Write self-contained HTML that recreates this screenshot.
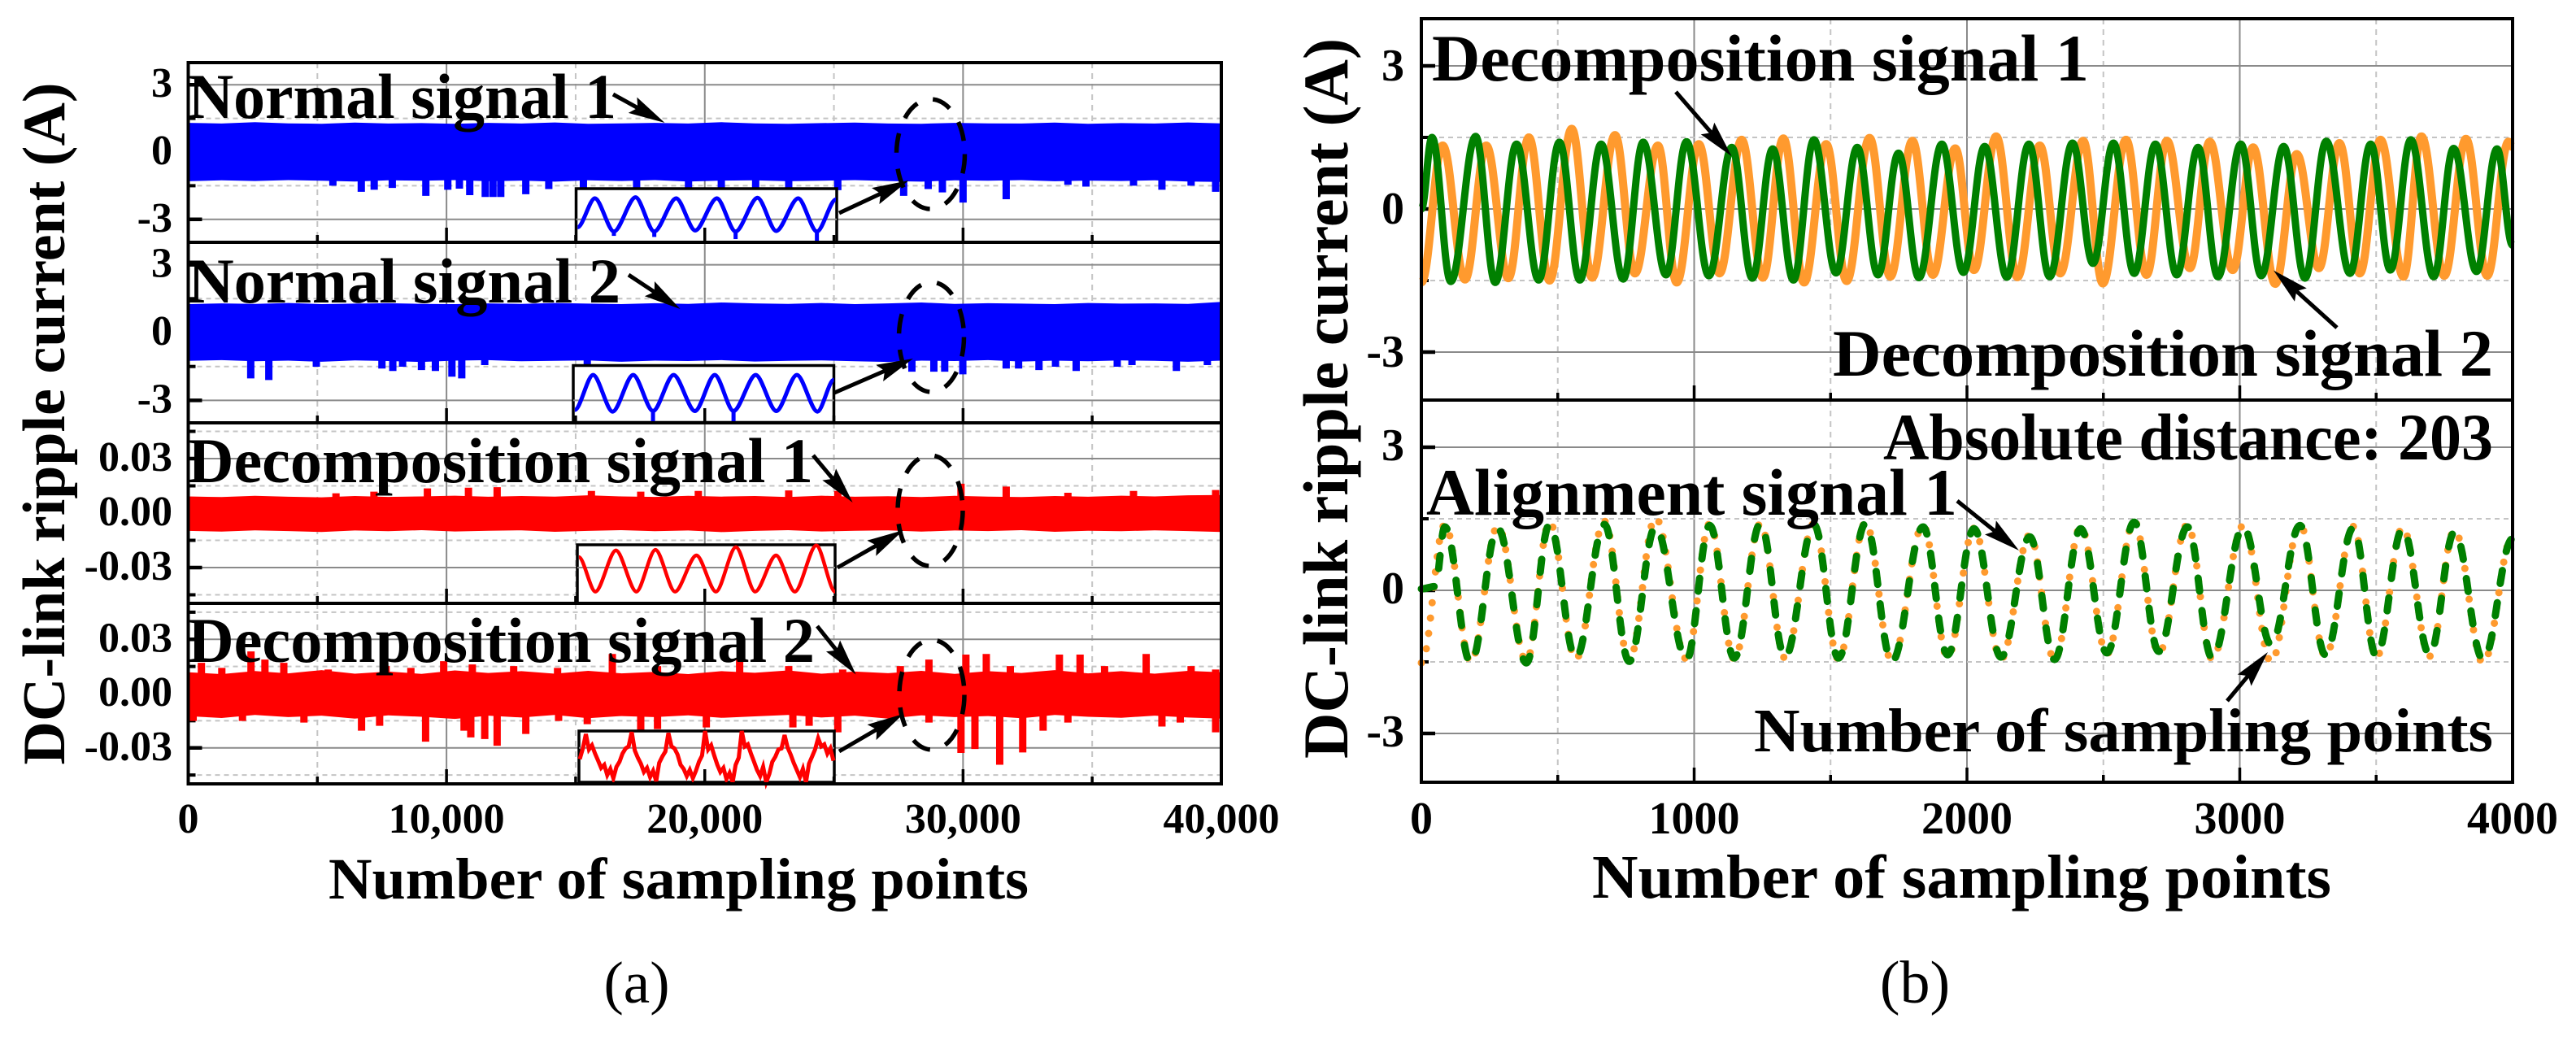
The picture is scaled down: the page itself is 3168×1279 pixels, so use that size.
<!DOCTYPE html>
<html lang="en">
<head>
<meta charset="utf-8">
<title>DC-link ripple current signals</title>
<style>
html,body{margin:0;padding:0;background:#fff;width:3168px;height:1279px;overflow:hidden}
svg{display:block}
text{font-family:"Liberation Serif","Times New Roman",serif;fill:#000}
.b{font-weight:bold}
</style>
</head>
<body>
<svg id="fig" xmlns="http://www.w3.org/2000/svg" width="3168" height="1279" viewBox="0 0 3168 1279">
  <rect x="0" y="0" width="3168" height="1279" fill="#fff"/>
  <g id="layer-a"></g>
  <g id="layer-b"></g>

  <g>
    <text class="b" x="231" y="145" font-size="78" textLength="527" lengthAdjust="spacingAndGlyphs">Normal signal 1</text>
    <text class="b" x="231" y="372" font-size="78" textLength="532" lengthAdjust="spacingAndGlyphs">Normal signal 2</text>
    <text class="b" x="231" y="593" font-size="78" textLength="769" lengthAdjust="spacingAndGlyphs">Decomposition signal 1</text>
    <text class="b" x="231" y="814" font-size="78" textLength="771" lengthAdjust="spacingAndGlyphs">Decomposition signal 2</text>
    <text class="b" transform="translate(79 521) rotate(-90)" text-anchor="middle" font-size="74" textLength="839" lengthAdjust="spacingAndGlyphs">DC-link ripple current (A)</text>
    <text class="b" x="404" y="1105" font-size="72" textLength="861" lengthAdjust="spacingAndGlyphs">Number of sampling points</text>
    <text x="783" y="1233" font-size="73" text-anchor="middle">(a)</text>
  </g>

  <g>
    <text class="b" x="1761" y="99" font-size="82" textLength="808" lengthAdjust="spacingAndGlyphs">Decomposition signal 1</text>
    <text class="b" x="2254" y="462" font-size="82" textLength="812" lengthAdjust="spacingAndGlyphs">Decomposition signal 2</text>
    <text class="b" x="2316" y="565" font-size="82" textLength="750" lengthAdjust="spacingAndGlyphs">Absolute distance: 203</text>
    <text class="b" x="1754" y="633" font-size="82" textLength="653" lengthAdjust="spacingAndGlyphs">Alignment signal 1</text>
    <text class="b" x="2157" y="924" font-size="76" textLength="909" lengthAdjust="spacingAndGlyphs">Number of sampling points</text>
    <text class="b" transform="translate(1657 490) rotate(-90)" text-anchor="middle" font-size="78" textLength="886" lengthAdjust="spacingAndGlyphs">DC-link ripple current (A)</text>
    <text class="b" x="1958" y="1104" font-size="76" textLength="909" lengthAdjust="spacingAndGlyphs">Number of sampling points</text>
    <text x="2355" y="1233" font-size="74" text-anchor="middle">(b)</text>
  </g>
  <g id="layer-arrows"></g>
</svg>
<script>
/* ---------- chart data: panel (a) ---------- */
const xTicksA = [0,10000,20000,30000,40000];
const xTickLabelsA = ["0","10,000","20,000","30,000","40,000"];
const xMinorA = [5000,15000,25000,35000];
const yTicksCurrent = [3,0,-3];
const yTickLabelsCurrent = ["3","0","-3"];
const yMinorCurrent = [1.5,-1.5];
const yTicksDecomp = [0.03,0,-0.03];
const yTickLabelsDecomp = ["0.03","0.00","-0.03"];
const yMinorDecomp = [0.045,0.015,-0.015,-0.045];

const upper1 = [1.30,1.27,1.33,1.28,1.26,1.31,1.27,1.29,1.26,1.30,1.27,1.32,1.26,1.28,1.30,1.27,1.33,1.28,1.26,1.29,1.31,1.27,1.26,1.30,1.28,1.27,1.31,1.26,1.29,1.27,1.32,1.28];
const lower1 = [-1.30,-1.26,-1.29,-1.25,-1.28,-1.31,-1.26,-1.28,-1.25,-1.30,-1.27,-1.32,-1.26,-1.29,-1.25,-1.31,-1.27,-1.26,-1.30,-1.28,-1.25,-1.29,-1.32,-1.26,-1.28,-1.25,-1.30,-1.27,-1.29,-1.26,-1.31,-1.33];
const spikeSamples1 = [5600,6700,7200,7900,9200,10050,10500,10900,11500,11800,12100,13070,13960,15300,17360,19370,20640,21970,23250,25150,27700,28650,29200,30000,31670,34060,34760,36600,37700,38830,39780];
const spikeValues1 = [-1.5,-1.77,-1.68,-1.6,-1.95,-1.68,-1.63,-1.92,-2.0,-2.0,-2.0,-1.88,-1.65,-1.88,-1.73,-1.7,-1.7,-1.7,-1.7,-1.7,-1.95,-1.65,-1.8,-2.25,-2.1,-1.46,-1.54,-1.5,-1.68,-1.5,-1.77];

const upper2 = [1.26,1.29,1.27,1.31,1.26,1.28,1.30,1.27,1.26,1.29,1.27,1.31,1.28,1.26,1.30,1.27,1.33,1.29,1.27,1.31,1.26,1.29,1.33,1.27,1.30,1.28,1.26,1.31,1.28,1.29,1.27,1.36];
const lower2 = [-1.25,-1.22,-1.27,-1.24,-1.29,-1.23,-1.26,-1.30,-1.24,-1.22,-1.27,-1.25,-1.23,-1.29,-1.24,-1.26,-1.22,-1.28,-1.25,-1.23,-1.27,-1.30,-1.24,-1.26,-1.22,-1.28,-1.24,-1.27,-1.23,-1.25,-1.29,-1.24];
const spikeSamples2 = [2420,3120,4960,7500,7920,8300,9030,9570,10210,10590,11480,15450,28020,28870,29290,29990,31670,32150,32940,33580,34380,35970,36540,38260,39460];
const spikeValues2 = [-2.03,-2.10,-1.51,-1.59,-1.70,-1.51,-1.66,-1.70,-1.95,-2.03,-1.44,-1.44,-1.73,-1.73,-1.73,-1.85,-1.59,-1.59,-1.66,-1.51,-1.70,-1.51,-1.44,-1.70,-1.44];

const upper3 = [0.0092,0.0088,0.0095,0.0090,0.0087,0.0094,0.0089,0.0092,0.0096,0.0090,0.0094,0.0091,0.0098,0.0092,0.0089,0.0095,0.0091,0.0094,0.0088,0.0096,0.0090,0.0093,0.0088,0.0095,0.0091,0.0088,0.0094,0.0090,0.0096,0.0092,0.0098,0.0100];
const lower3 = [-0.0098,-0.0102,-0.0095,-0.0099,-0.0104,-0.0096,-0.0100,-0.0094,-0.0101,-0.0097,-0.0095,-0.0103,-0.0098,-0.0094,-0.0100,-0.0096,-0.0105,-0.0098,-0.0094,-0.0101,-0.0097,-0.0095,-0.0102,-0.0096,-0.0099,-0.0094,-0.0103,-0.0097,-0.0100,-0.0095,-0.0099,-0.0104];
const spikeSamples3 = [5720,7190,9260,10850,11960,15610,17520,19750,23250,25150,29920,31670,34060,36600,39780];
const spikeValues3 = [0.0109,0.0118,0.0136,0.014,0.0143,0.0122,0.0118,0.0122,0.0125,0.0122,0.0162,0.0146,0.0112,0.0122,0.0127];

const upper4 = [0.0118,0.0108,0.0125,0.0112,0.0130,0.0110,0.0122,0.0109,0.0128,0.0114,0.0124,0.0110,0.0126,0.0112,0.0120,0.0108,0.0124,0.0115,0.0128,0.0110,0.0122,0.0113,0.0126,0.0109,0.0124,0.0114,0.0130,0.0112,0.0124,0.0110,0.0126,0.0118];
const lower4 = [-0.0125,-0.0135,-0.0118,-0.0130,-0.0122,-0.0138,-0.0120,-0.0128,-0.0140,-0.0122,-0.0132,-0.0118,-0.0136,-0.0124,-0.0130,-0.0120,-0.0134,-0.0126,-0.0118,-0.0132,-0.0122,-0.0138,-0.0120,-0.0130,-0.0124,-0.0136,-0.0118,-0.0128,-0.0134,-0.0122,-0.0132,-0.0138];
const upSpikeSamples4 = [510,1300,2430,2970,3700,5420,7660,8620,9890,11000,12600,14300,16420,18170,21350,23250,25340,27570,28680,30110,30900,31830,33730,34530,35480,37090,38830,39780];
const upSpikeValues4 = [0.017,0.0142,0.0233,0.0188,0.017,0.0133,0.0152,0.0142,0.0179,0.0161,0.0152,0.0142,0.0219,0.0152,0.0188,0.0152,0.0133,0.0152,0.0188,0.0216,0.0219,0.0152,0.0216,0.0216,0.0152,0.0219,0.0152,0.0133];
const downSpikeSamples4 = [190,2100,4480,6710,7410,9190,10680,10940,11480,11960,13070,14340,15450,17520,18170,20060,23410,24040,25150,28680,29920,30460,31420,32310,33100,34060,37700,38410,39780];
const downSpikeValues4 = [-0.0151,-0.0151,-0.016,-0.0205,-0.0178,-0.0266,-0.0205,-0.0242,-0.0251,-0.0288,-0.0223,-0.0151,-0.0169,-0.0214,-0.0196,-0.0187,-0.0187,-0.0178,-0.0214,-0.016,-0.0328,-0.0306,-0.0393,-0.0325,-0.0205,-0.016,-0.0182,-0.016,-0.0214];

/* inset waveforms: x and y are percent of the inset box */
const inset1X = [0.6,7.2,14.5,22.8,30,38.4,45.7,54,61.2,69.6,76.8,85.2,92.4,99.7];
const inset1Y = [72,18,80,16,80,18,78,18,80,17,79,18,80,20];
const inset1SpikeX = [14.5,30,61.2,92.4];
const inset1SpikeY = [88,90,94,100];
const inset2X = [0.6,7.6,15.1,23,30.6,38.5,46.7,54.3,61.5,70,77.9,85.8,93.7,100];
const inset2Y = [78,16.5,81,16.5,80,16.5,80,16.5,80,16.5,80,16.5,81,25];
const inset2SpikeX = [30.6,61.5];
const inset2SpikeY = [100,100];
const inset3X = [0.6,7,15,22.9,30.3,37.9,46.2,53.8,61.5,69,77.1,84.4,92.7,100];
const inset3Y = [21,80,9.6,80,8.5,80,18,80,4,80,18,80,1,80];
const inset4Y = [55,34,6,36,28,44,58,72,66,86,74,92,70,60,44,34,30,2,38,52,64,80,72,90,78,98,62,50,40,4,30,34,46,66,74,88,76,92,78,60,48,0,36,28,48,66,80,72,94,82,100,66,52,0,30,26,44,60,76,88,70,100,84,60,50,36,34,8,32,46,62,76,90,74,100,64,50,36,14,30,26,44,34,58];

/* ---------- chart data: panel (b) ---------- */
const xTicksB = [0,1000,2000,3000,4000];
const xTickLabelsB = ["0","1000","2000","3000","4000"];
const xMinorB = [500,1500,2500,3500];
const green1Samples = [0,39,108,199,271,349,430,506,581,659,740,813,897,972,1054,1138,1213,1288,1364,1439,1520,1598,1674,1749,1824,1908,1987,2065,2146,2227,2303,2387,2462,2537,2613,2691,2769,2847,2920,3004,3079,3161,3239,3317,3404,3480,3552,3627,3711,3784,3868,3943,4000];
const green1Values = [0,1.50,-1.52,1.52,-1.54,1.36,-1.49,1.40,-1.49,1.36,-1.47,1.40,-1.38,1.41,-1.40,1.29,-1.45,1.26,-1.49,1.45,-1.34,1.29,-1.38,1.17,-1.44,1.36,-1.33,1.31,-1.43,1.36,-1.42,1.38,-1.14,1.38,-1.35,1.36,-1.38,1.29,-1.42,1.36,-1.40,1.31,-1.45,1.42,-1.35,1.36,-1.28,1.45,-1.42,1.27,-1.31,1.26,-0.76];
const orange1Samples = [0,78,160,238,319,394,470,551,626,710,783,867,936,1017,1093,1174,1252,1327,1403,1484,1559,1643,1719,1800,1875,1957,2026,2107,2185,2267,2342,2426,2498,2583,2658,2733,2817,2890,2974,3049,3130,3209,3290,3365,3440,3516,3600,3666,3750,3829,3907,3985,4000];
const orange1Values = [-1.54,1.33,-1.48,1.33,-1.45,1.50,-1.50,1.68,-1.44,1.55,-1.35,1.33,-1.54,1.36,-1.35,1.45,-1.44,1.48,-1.54,1.36,-1.51,1.49,-1.42,1.43,-1.38,1.27,-1.28,1.52,-1.43,1.33,-1.35,1.43,-1.56,1.45,-1.38,1.43,-1.24,1.41,-1.28,1.29,-1.57,1.15,-1.24,1.38,-1.35,1.45,-1.42,1.52,-1.40,1.47,-1.40,1.41,1.30];
const alignGreenSamples = [0,50,86,181,280,385,470,566,671,762,858,972,1057,1147,1243,1333,1439,1529,1628,1725,1839,1929,2026,2125,2230,2321,2417,2513,2613,2703,2808,2899,3013,3115,3221,3314,3416,3501,3597,3696,3787,3892,4000];
const alignGreenValues = [0.03,0.08,1.33,-1.52,1.30,-1.52,1.38,-1.42,1.38,-1.49,1.33,-1.45,1.36,-1.42,1.40,-1.40,1.38,-1.42,1.40,-1.49,1.33,-1.35,1.29,-1.40,1.12,-1.45,1.29,-1.31,1.43,-1.28,1.33,-1.42,1.33,-1.14,1.36,-1.35,1.31,-1.38,1.29,-1.35,1.22,-1.45,1.08];
const alignOrangeSamples = [0,86,181,280,385,470,566,671,762,858,972,1057,1147,1243,1333,1439,1529,1628,1725,1839,1929,2026,2125,2230,2321,2417,2513,2613,2703,2808,2899,3013,3115,3221,3314,3416,3501,3597,3696,3787,3892,4000];
const alignOrangeValues = [-1.52,1.38,-1.50,1.34,-1.48,1.43,-1.44,1.45,-1.46,1.52,-1.44,1.40,-1.44,1.40,-1.42,1.40,-1.44,1.42,-1.49,1.36,-1.40,1.30,-1.44,1.16,-1.46,1.33,-1.33,1.45,-1.32,1.38,-1.44,1.36,-1.50,1.38,-1.38,1.34,-1.40,1.32,-1.38,1.26,-1.52,1.12];

/* ---------- drawing ---------- */
const NS = 'http://www.w3.org/2000/svg';
const layerA = document.getElementById('layer-a');
const layerB = document.getElementById('layer-b');
const layerArrows = document.getElementById('layer-arrows');
const BLUE = '#0000ff', RED = '#ff0000', GREEN = '#008000', ORANGE = '#ff9a2e';
const GRID = '#8a8a8a', GRID_MINOR = '#c4c4c4';

function mk(parent, tag, attrs) {
  const el = document.createElementNS(NS, tag);
  for (const k in attrs) el.setAttribute(k, attrs[k]);
  parent.appendChild(el);
  return el;
}
function lineMark(parent, x1, y1, x2, y2, stroke, width, dash) {
  const attrs = {x1, y1, x2, y2, stroke, 'stroke-width': width};
  if (dash) attrs['stroke-dasharray'] = dash;
  return mk(parent, 'line', attrs);
}
function labelMark(parent, x, y, size, anchor, str) {
  const t = mk(parent, 'text', {x, y, 'font-size': size, 'text-anchor': anchor, 'font-weight': 'bold'});
  t.textContent = str;
  return t;
}
function smoothPath(px, py, k) {
  const c = k === undefined ? 0.38 : k;
  let d = 'M' + px[0].toFixed(1) + ' ' + py[0].toFixed(1);
  for (let i = 1; i < px.length; i++) {
    const dx = (px[i] - px[i-1]) * c;
    d += 'C' + (px[i-1]+dx).toFixed(1) + ' ' + py[i-1].toFixed(1) + ' ' + (px[i]-dx).toFixed(1) + ' ' + py[i].toFixed(1) + ' ' + px[i].toFixed(1) + ' ' + py[i].toFixed(1);
  }
  return d;
}

function drawGrid(g, xScale, left, right, top, bottom, yScale, yMajor, yMinor, xMajor, xMinor) {
  xMinor.forEach(v => {
    const l = lineMark(g, xScale(v), top, xScale(v), bottom, GRID_MINOR, 2, '7 6');
    
    
  });
  xMajor.forEach(v => {
    const l = lineMark(g, xScale(v), top, xScale(v), bottom, GRID, 2);
    
    
  });
  yMinor.forEach(v => {
    const l = lineMark(g, left, yScale(v), right, yScale(v), GRID_MINOR, 2, '6 5');
    
    
  });
  yMajor.forEach(v => {
    const l = lineMark(g, left, yScale(v), right, yScale(v), GRID, 2);
    
    
  });
}
function drawYTicks(g, left, yScale, yMajor, yMinor, labels, labelX, labelDy, size) {
  yMajor.forEach((v, i) => {
    const l = lineMark(g, left, yScale(v), left + 17, yScale(v), '#000', 4.5);
    
    
    const t = labelMark(g, labelX, yScale(v) + labelDy, size, 'end', labels[i]);
    
    
  });
  yMinor.forEach(v => {
    const l = lineMark(g, left, yScale(v), left + 9, yScale(v), '#000', 4);
    
    
  });
}
function drawXTicks(g, xScale, bottom, xMajor, xMinor) {
  xMajor.forEach(v => {
    const l = lineMark(g, xScale(v), bottom, xScale(v), bottom - 18, '#000', 3.5);
    
    
  });
  xMinor.forEach(v => {
    const l = lineMark(g, xScale(v), bottom, xScale(v), bottom - 9, '#000', 3.5);
    
    
  });
}
function drawFrame(g, left, right, top, bottom) {
  const r = mk(g, 'rect', {x: left, y: top, width: right-left, height: bottom-top, fill: 'none', stroke: '#000', 'stroke-width': 4});
  
  
}
function drawBand(g, xScale, yScale, upper, lower, color) {
  const n = upper.length;
  let d = '';
  upper.forEach((v, i) => {
    d += (i ? 'L' : 'M') + xScale(i * 40000 / (n-1)).toFixed(1) + ' ' + yScale(v).toFixed(1);
  });
  for (let i = n - 1; i >= 0; i--) {
    d += 'L' + xScale(i * 40000 / (n-1)).toFixed(1) + ' ' + yScale(lower[i]).toFixed(1);
  }
  const p = mk(g, 'path', {d: d + 'Z', fill: color});
  
  
}
function drawSpikes(g, xScale, yScale, samples, values, color) {
  samples.forEach((s, i) => {
    const l = lineMark(g, xScale(s), yScale(0), xScale(s), yScale(values[i]), color, 9);
    
    
  });
}
function drawInsetBox(g, box, gridY) {
  const r = mk(g, 'rect', {x: box.x, y: box.y, width: box.w, height: box.h, fill: '#fff', stroke: '#000', 'stroke-width': 3.5});
  
  
  const l = lineMark(g, box.x, gridY, box.x + box.w, gridY, GRID, 2);
  
  
}
function drawInsetWave(g, box, color, width, xs, ys, spikeX, spikeY) {
  const px = xs.map(v => box.x + v * box.w / 100);
  const py = ys.map(v => box.y + v * box.h / 100);
  const p = mk(g, 'path', {d: smoothPath(px, py, 0.3), fill: 'none', stroke: color, 'stroke-width': width, 'stroke-linejoin': 'round'});
  
  
  spikeX.forEach((v, i) => {
    const l = lineMark(g, box.x + v * box.w / 100, box.y + 76 * box.h / 100, box.x + v * box.w / 100, box.y + spikeY[i] * box.h / 100, color, 5);
    
    
  });
}
function drawEllipse(cx, cy, rx, ry) {
  const e = mk(layerArrows, 'ellipse', {cx, cy, rx, ry, fill: 'none', stroke: '#000', 'stroke-width': 5.5, 'stroke-dasharray': '24 20'});
  
  
}
function drawArrow(x1, y1, x2, y2) {
  const L = Math.hypot(x2 - x1, y2 - y1);
  const ux = (x2 - x1) / L, uy = (y2 - y1) / L;
  const nx = -uy, ny = ux;
  const H = 45, W = 11, N = 7;
  const l = lineMark(layerArrows, x1, y1, x2 - ux * (H - N), y2 - uy * (H - N), '#000', 5);
  
  
  const pts = [
    [x2, y2],
    [x2 - ux*H + nx*W, y2 - uy*H + ny*W],
    [x2 - ux*(H-N), y2 - uy*(H-N)],
    [x2 - ux*H - nx*W, y2 - uy*H - ny*W]
  ].map(p => p[0].toFixed(1) + ',' + p[1].toFixed(1)).join(' ');
  const head = mk(layerArrows, 'polygon', {points: pts, fill: '#000'});
  
  
}

/* panel (a) */
const xA = v => 231.5 + v * 1270.5 / 40000;
const yA1 = v => 187 - v * 27.6;
const yA2 = v => 409 - v * 27.8;
const yA3 = v => 631 - v * 2233;
const yA4 = v => 853 - v * 2225;
const leftA = 231.5, rightA = 1502;

function subPanelA(top, bottom, yScale, major, minor, tickLabels, drawMarks) {
  const g = mk(layerA, 'g', {});
  
  
  drawGrid(g, xA, leftA, rightA, top, bottom, yScale, major, minor, xTicksA.slice(1, 4), xMinorA);
  drawYTicks(g, leftA, yScale, major, minor, tickLabels, 212, 15, 52);
  drawMarks(g);
  drawXTicks(g, xA, bottom, xTicksA.slice(1, 4), xMinorA);
  drawFrame(g, leftA, rightA, top, bottom);
}
subPanelA(77, 298, yA1, yTicksCurrent, yMinorCurrent, yTickLabelsCurrent, g => {
  drawSpikes(g, xA, yA1, spikeSamples1, spikeValues1, BLUE);
  drawBand(g, xA, yA1, upper1, lower1, BLUE);
  const box = {x: 708.5, y: 232, w: 320.5, h: 66};
  drawInsetBox(g, box, yA1(-3));
  drawInsetWave(g, box, BLUE, 5, inset1X, inset1Y, inset1SpikeX, inset1SpikeY);
});
subPanelA(298, 520, yA2, yTicksCurrent, yMinorCurrent, yTickLabelsCurrent, g => {
  drawSpikes(g, xA, yA2, spikeSamples2, spikeValues2, BLUE);
  drawBand(g, xA, yA2, upper2, lower2, BLUE);
  const box = {x: 705, y: 449.5, w: 320.5, h: 70};
  drawInsetBox(g, box, yA2(-3));
  drawInsetWave(g, box, BLUE, 5, inset2X, inset2Y, inset2SpikeX, inset2SpikeY);
});
subPanelA(520, 742, yA3, yTicksDecomp, yMinorDecomp, yTickLabelsDecomp, g => {
  drawSpikes(g, xA, yA3, spikeSamples3, spikeValues3, RED);
  drawBand(g, xA, yA3, upper3, lower3, RED);
  const box = {x: 710, y: 670, w: 317, h: 72};
  drawInsetBox(g, box, yA3(-0.03));
  drawInsetWave(g, box, RED, 4.5, inset3X, inset3Y, [], []);
});
subPanelA(742, 964, yA4, yTicksDecomp, yMinorDecomp, yTickLabelsDecomp, g => {
  drawSpikes(g, xA, yA4, upSpikeSamples4, upSpikeValues4, RED);
  drawSpikes(g, xA, yA4, downSpikeSamples4, downSpikeValues4, RED);
  drawBand(g, xA, yA4, upper4, lower4, RED);
  const box = {x: 712, y: 899, w: 314, h: 63};
  drawInsetBox(g, box, yA4(-0.03));
  const n = inset4Y.length;
  const pts = inset4Y.map((v, i) => (box.x + 1 + i * (box.w - 2) / (n - 1)).toFixed(1) + ',' + (box.y + v * box.h / 100).toFixed(1)).join(' ');
  const noisy = mk(g, 'polyline', {points: pts, fill: 'none', stroke: RED, 'stroke-width': 5});
  
  
});
xTicksA.forEach((v, i) => {
  const t = labelMark(layerA, xA(v), 1024, 52, 'middle', xTickLabelsA[i]);
  
  
});

/* panel (b) */
const xB = v => 1748 + v * 0.3355;
const yB1 = v => 257 - v * 58.67;
const yB2 = v => 726 - v * 58.67;
const leftB = 1748, rightB = 3090;

function subPanelB(top, bottom, yScale, labelDy, drawMarks) {
  const g = mk(layerB, 'g', {});
  
  
  drawGrid(g, xB, leftB, rightB, top, bottom, yScale, yTicksCurrent, yMinorCurrent, xTicksB.slice(1, 4), xMinorB);
  drawYTicks(g, leftB, yScale, yTicksCurrent, yMinorCurrent, yTickLabelsCurrent, 1727, labelDy, 56);
  drawXTicks(g, xB, bottom, xTicksB.slice(1, 4), xMinorB);
  drawMarks(g);
  drawFrame(g, leftB, rightB, top, bottom);
}
function curve(g, samples, values, yScale, color, width, extra) {
  const attrs = Object.assign({d: smoothPath(samples.map(xB), values.map(yScale)), fill: 'none', stroke: color, 'stroke-width': width, 'stroke-linejoin': 'round'}, extra || {});
  return mk(g, 'path', attrs);
}
subPanelB(23, 492, yB1, 18, g => {
  const o = curve(g, orange1Samples, orange1Values, yB1, ORANGE, 10);
  
  
  const gr = curve(g, green1Samples, green1Values, yB1, GREEN, 9);
  
  
});
subPanelB(492, 962, yB2, 16, g => {
  const o = curve(g, alignOrangeSamples, alignOrangeValues, yB2, ORANGE, 9, {'stroke-dasharray': '0 19', 'stroke-linecap': 'round'});
  
  
  const gr = curve(g, alignGreenSamples, alignGreenValues, yB2, GREEN, 9, {'stroke-dasharray': '16 24', 'stroke-linecap': 'round'});
  
  
});
xTicksB.forEach((v, i) => {
  const t = labelMark(layerB, xB(v), 1025, 56, 'middle', xTickLabelsB[i]);
  
  
});

/* annotations */
drawEllipse(1144.5, 189.5, 42, 67.5);
drawEllipse(1145.5, 414.5, 40, 67.5);
drawEllipse(1144, 628, 40, 68);
drawEllipse(1146, 854.5, 40, 67.5);
drawArrow(754, 116, 817.5, 151);
drawArrow(773, 338, 836.5, 380);
drawArrow(1000, 560, 1048.6, 618);
drawArrow(1005, 770, 1052.6, 829.5);
drawArrow(1032, 262, 1117.5, 222);
drawArrow(1025, 483.5, 1123, 441);
drawArrow(1030, 698, 1111, 652);
drawArrow(1032, 924, 1111, 878);
drawArrow(2061, 113, 2129.5, 192);
drawArrow(2874, 403, 2796, 332.5);
drawArrow(2407, 616, 2483, 677);
drawArrow(2739, 862, 2789, 802);
</script>
</body>
</html>
